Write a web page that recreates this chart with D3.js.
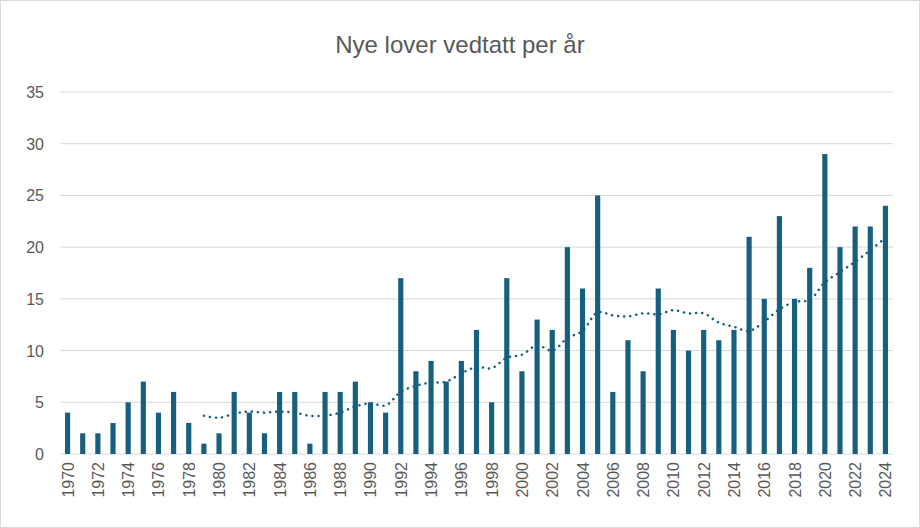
<!DOCTYPE html>
<html><head><meta charset="utf-8">
<script src="https://cdn.jsdelivr.net/npm/d3@7"></script>
<style>body{margin:0;background:#fff;font-family:"Liberation Sans",Arial,sans-serif}</style>
</head><body><svg id="chart" width="920" height="528"></svg>
<script>
const years = d3.range(1970, 2025);
const laws = [4,2,2,3,5,7,4,6,3,1, 2,6,4,2,6,6,1,6,6,7, 5,4,17,8,9,7,9,12,5,17, 8,13,12,20,16,25,6,11,8,16, 12,10,12,11,12,21,15,23,15,18, 29,20,22,22,24];
const yTicks = [0,5,10,15,20,25,30,35];

const svg = d3.select("#chart");
svg.append("rect").attr("x",0.5).attr("y",0.5).attr("width",919).attr("height",527)
  .attr("fill","#fff").attr("stroke","#d9d9d9");

const x = d3.scaleBand().domain(years).range([60, 893]).paddingInner(0.66).paddingOuter(0.33);
const y = d3.scaleLinear().domain([0,35]).range([454, 92]);

svg.append("text").attr("x",460).attr("y",53).attr("text-anchor","middle")
  .attr("font-size",24).attr("fill","#595959").text("Nye lover vedtatt per år");

svg.selectAll("line.grid").data(yTicks).join("line")
  .attr("x1",60).attr("x2",893).attr("y1",d=>y(d)).attr("y2",d=>y(d))
  .attr("stroke","#d9d9d9").attr("stroke-width",1);

svg.selectAll("text.yl").data(yTicks).join("text")
  .attr("x",44).attr("y",d=>y(d)+6).attr("text-anchor","end")
  .attr("font-size",16).attr("fill","#595959").text(d=>d);

svg.selectAll("rect.bar").data(laws).join("rect")
  .attr("x",(d,i)=>x(years[i])).attr("width",x.bandwidth())
  .attr("y",d=>y(d)).attr("height",d=>y(0)-y(d)).attr("fill","#165f7e");

// 10-period moving average trendline
const ma = [];
for (let i = 9; i < laws.length; i++) ma.push([years[i], d3.mean(laws.slice(i-9, i+1))]);
svg.append("path").datum(ma)
  .attr("d", d3.line().x(d=>x(d[0])+x.bandwidth()/2).y(d=>y(d[1])).curve(d3.curveCatmullRom))
  .attr("fill","none").attr("stroke","#165f7e").attr("stroke-width",2.5)
  .attr("stroke-dasharray","0.1 6").attr("stroke-linecap","round");

svg.selectAll("text.xl").data(years.filter(d=>d%2===0)).join("text")
  .attr("transform",d=>`translate(${x(d)+x.bandwidth()/2+6},${462}) rotate(-90)`)
  .attr("text-anchor","end").attr("font-size",16).attr("fill","#595959").text(d=>d);
</script></body></html>
